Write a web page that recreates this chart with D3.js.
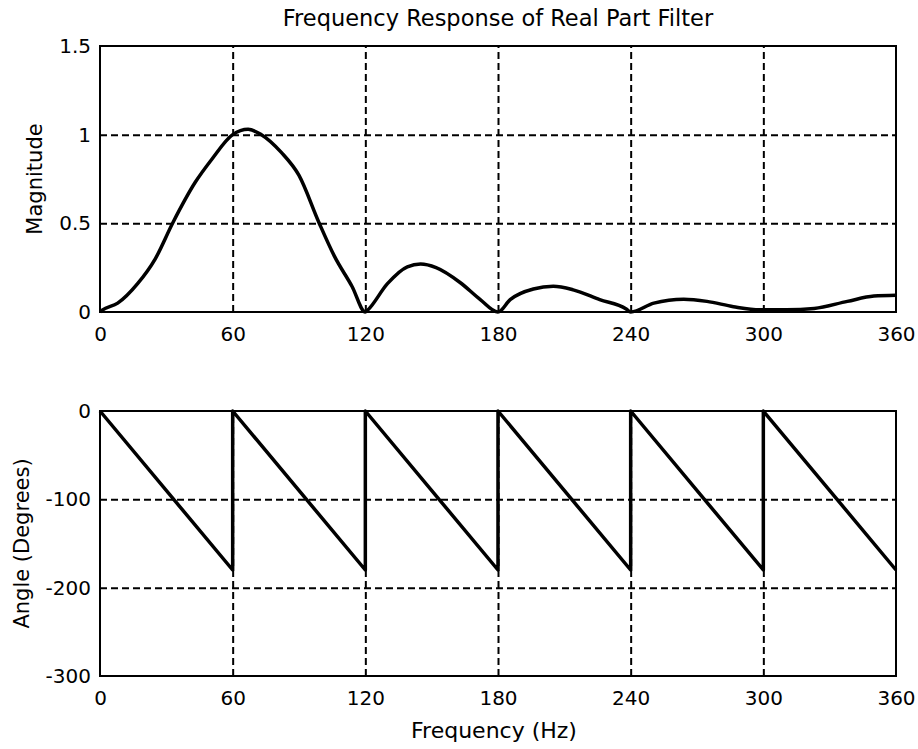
<!DOCTYPE html>
<html>
<meta charset="utf-8">
<head>
  <title>Frequency Response of Real Part Filter</title>
</head>

<style>
body { margin: 0; background: white; }
text {
  font-family: "DejaVu Sans", sans-serif;
  font-size: 21px;
  fill: black;
}
.grid line {
  stroke: black;
  stroke-width: 2;
  stroke-dasharray: 7,4;
}
.grid path { display: none; }
.frame {
  fill: none;
  stroke: black;
  stroke-width: 2;
}
.trace {
  fill: none;
  stroke: black;
  stroke-width: 3.5;
  stroke-linejoin: round;
}
</style>

<body>
  <svg width="918" height="749"></svg>

  <script src="https://cdnjs.cloudflare.com/ajax/libs/d3/7.8.5/d3.min.js"></script>
  <script>
// values
var freqTicks = [0, 60, 120, 180, 240, 300, 360];
var magTicks = [0, 0.5, 1, 1.5];
var angleTicks = [-300, -200, -100, 0];

var magFreq = [0, 1, 8, 17, 25, 33, 43, 50.5, 60, 67, 73, 82, 90, 99, 106, 114, 120,
  121, 130, 139, 145, 152, 163, 172, 180,
  185.5, 196, 205, 214, 226, 238, 240,
  250.5, 264, 274.5, 286.5, 298.5, 310.5, 323, 338, 350, 360];
var magValue = [0, 0.01, 0.05, 0.16, 0.30, 0.505, 0.73, 0.86, 1.0, 1.03, 1.0, 0.90, 0.77, 0.505, 0.315, 0.144, 0,
  0.01, 0.16, 0.255, 0.27, 0.25, 0.165, 0.07, 0,
  0.07, 0.13, 0.145, 0.125, 0.07, 0.017, 0,
  0.05, 0.072, 0.06, 0.03, 0.012, 0.012, 0.02, 0.06, 0.09, 0.095];

var angleFreq = [0, 60, 60, 120, 120, 180, 180, 240, 240, 300, 300, 360];
var angleValue = [0, -180, 0, -180, 0, -180, 0, -180, 0, -180, 0, -180];

var svg = d3.select('svg');
var left = 100, right = 896;

var x = d3.scaleLinear().domain([0, 360]).range([left, right]);

function plain(d) { return String(d); }

function panel(top, bottom, yDomain, yTicks, xs, ys, curve, ylabel, labelX) {
  var y = d3.scaleLinear().domain(yDomain).range([bottom, top]);
  var g = svg.append('g');

  g.append('g')
    .attr('class', 'grid')
    .attr('transform', 'translate(0,' + bottom + ')')
    .call(d3.axisBottom(x).tickValues(freqTicks.slice(1, -1)).tickSize(-(bottom - top)).tickFormat(''));

  g.append('g')
    .attr('class', 'grid')
    .attr('transform', 'translate(' + left + ',0)')
    .call(d3.axisLeft(y).tickValues(yTicks.slice(1, -1)).tickSize(-(right - left)).tickFormat(''));

  var line = d3.line()
    .x(function(d, i) { return x(xs[i]); })
    .y(function(d, i) { return y(ys[i]); })
    .curve(curve);

  g.append('path')
    .datum(xs)
    .attr('class', 'trace')
    .attr('d', line);

  g.append('rect')
    .attr('class', 'frame')
    .attr('x', left).attr('y', top)
    .attr('width', right - left).attr('height', bottom - top);

  var xa = g.append('g')
    .attr('transform', 'translate(0,' + bottom + ')')
    .call(d3.axisBottom(x).tickValues(freqTicks).tickFormat(plain).tickSize(0).tickPadding(15));
  xa.select('.domain').remove();

  var ya = g.append('g')
    .attr('transform', 'translate(' + left + ',0)')
    .call(d3.axisLeft(y).tickValues(yTicks).tickFormat(plain).tickSize(0).tickPadding(9));
  ya.select('.domain').remove();

  g.selectAll('.tick text')
    .style('font-family', '"DejaVu Sans", sans-serif')
    .style('font-size', '20px');

  g.append('text')
    .attr('transform', 'translate(' + labelX + ',' + ((top + bottom) / 2) + ') rotate(-90)')
    .attr('text-anchor', 'middle')
    .attr('dy', '0.35em')
    .text(ylabel);

  return y;
}

panel(46, 312, [0, 1.5], magTicks, magFreq, magValue, d3.curveMonotoneX, 'Magnitude', 35);
panel(411, 676, [-300, 0], angleTicks, angleFreq, angleValue, d3.curveLinear, 'Angle (Degrees)', 22);

svg.append('text')
  .attr('x', (left + right) / 2)
  .attr('y', 18)
  .attr('dy', '0.35em')
  .attr('text-anchor', 'middle')
  .style('font-size', '22.5px')
  .text('Frequency Response of Real Part Filter');

svg.append('text')
  .attr('x', (left + right) / 2 - 4)
  .attr('y', 730)
  .attr('dy', '0.35em')
  .attr('text-anchor', 'middle')
  .style('font-size', '22px')
  .text('Frequency (Hz)');
  </script>
</body>
</html>
